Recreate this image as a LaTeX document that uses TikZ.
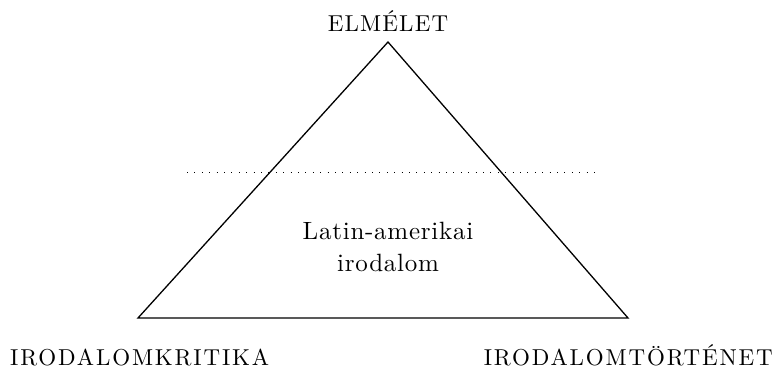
\documentclass[tikz,border=0pt]{standalone}
\usepackage{fontspec}
\setmainfont{lmroman10-regular}[Extension=.otf,LetterSpace=5]
\newfontfamily\widefont{lmroman10-regular}[Extension=.otf,LetterSpace=8]
\newfontfamily\innerfont{lmroman10-regular}[Extension=.otf,LetterSpace=3]
\begin{document}
\begin{tikzpicture}[x=1pt,y=-1pt,
  every node/.style={font=\fontsize{23}{26}\selectfont,inner sep=0pt},
  field/.style={anchor=base,font=\widefont\fontsize{23}{26}\selectfont}]
  \useasboundingbox (0,0) rectangle (774,371);
  % corners of the triangle
  \coordinate (apex) at (388,42);
  \coordinate (bl) at (138,318);
  \coordinate (br) at (628,318);
  \draw[line width=1.3pt,line join=miter] (apex) -- (bl) -- (br) -- cycle;
  % dotted divider
  \coordinate (dl) at (187,173);
  \coordinate (dr) at (601,173);
  \draw[line width=1pt,dash pattern=on 1pt off 6.4pt] (dl) -- (dr);
  % labels
  \node[anchor=base] (theory) at (388,32) {ELMÉLET};
  \node[field,anchor=base west] (critic) at (10,366) {IRODALOMKRITIKA};
  \node[field,anchor=base east] (history) at (773,366) {IRODALOMTÖRTÉNET};
  \node[align=center,font=\innerfont\fontsize{25}{32}\selectfont,anchor=base] (lit) at (388,272) {Latin-amerikai\\irodalom};
\end{tikzpicture}
\end{document}
